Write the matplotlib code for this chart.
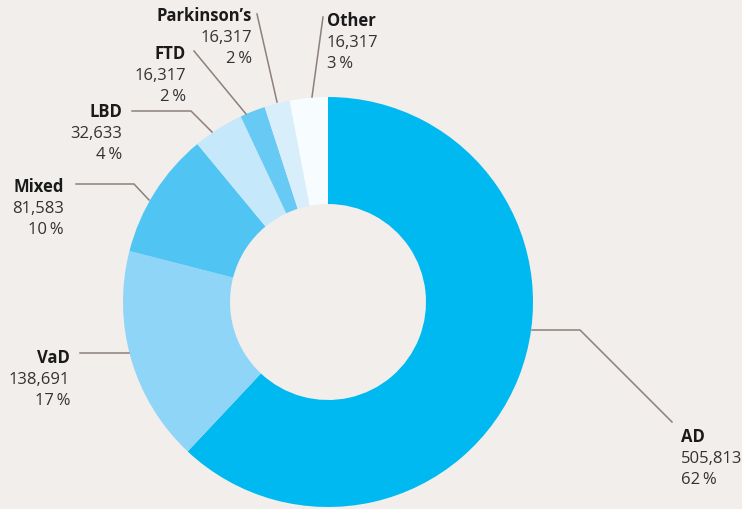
import matplotlib
matplotlib.use("Agg")
import matplotlib.pyplot as plt

# data
types = ["AD", "VaD", "Mixed", "LBD", "FTD", "Parkinson\u2019s", "Other"]
counts = ["505,813", "138,691", "81,583", "32,633", "16,317", "16,317", "16,317"]
shares = [62, 17, 10, 4, 2, 2, 3]
colors = ["#00B9F1", "#8FD5F7", "#50C5F4", "#C5E8FA", "#66CAF5", "#D8EEFB", "#F7FCFF"]

BG = "#F1EEEB"
LINE = "#8C807C"
W, H = 742, 510

# label layout in pixel coords of the picture: (x, first baseline, align, leader points)
layout = {
    "AD": (681, 442, "left", [(532, 331), (580, 331), (672, 423)]),
    "VaD": (70, 363, "right", [(80, 354), (129, 354)]),
    "Mixed": (64, 192, "right", [(76, 185), (134, 185), (149, 201)]),
    "LBD": (122, 117, "right", [(132, 112), (191, 112), (212, 133)]),
    "FTD": (186, 59, "right", [(194, 52), (246, 115)]),
    "Parkinson\u2019s": (252, 21, "right", [(257, 15), (277, 103)]),
    "Other": (327, 26, "left", [(323, 18), (312, 98)]),
}

def py(y):
    return H - y

fig = plt.figure(figsize=(W / 100, H / 100), dpi=100, facecolor=BG)
ax = fig.add_axes([0, 0, 1, 1])
ax.set_facecolor(BG)

ax.pie(shares, colors=colors, startangle=90, counterclock=False,
       radius=205, center=(328, py(303)),
       wedgeprops=dict(width=107, linewidth=0))

fam = ["Open Sans", "DejaVu Sans"]
for name, cnt, pct in zip(types, counts, shares):
    x, y0, ha, pts = layout[name]
    ax.plot([p[0] for p in pts], [py(p[1]) for p in pts], color=LINE, lw=1.1,
            solid_joinstyle="miter")
    ax.text(x, py(y0), name, ha=ha, va="baseline", fontsize=12,
            fontweight="bold", color="#1A1A1A", family=fam)
    ax.text(x, py(y0 + 21), cnt, ha=ha, va="baseline", fontsize=12,
            color="#333333", family=fam)
    ax.text(x, py(y0 + 42), f"{pct}\u2009%", ha=ha, va="baseline", fontsize=12,
            color="#333333", family=fam)

ax.set_xlim(0, W)
ax.set_ylim(0, H)
ax.set_aspect("equal")
ax.axis("off")

fig.savefig("out.png", dpi=100, facecolor=BG)
